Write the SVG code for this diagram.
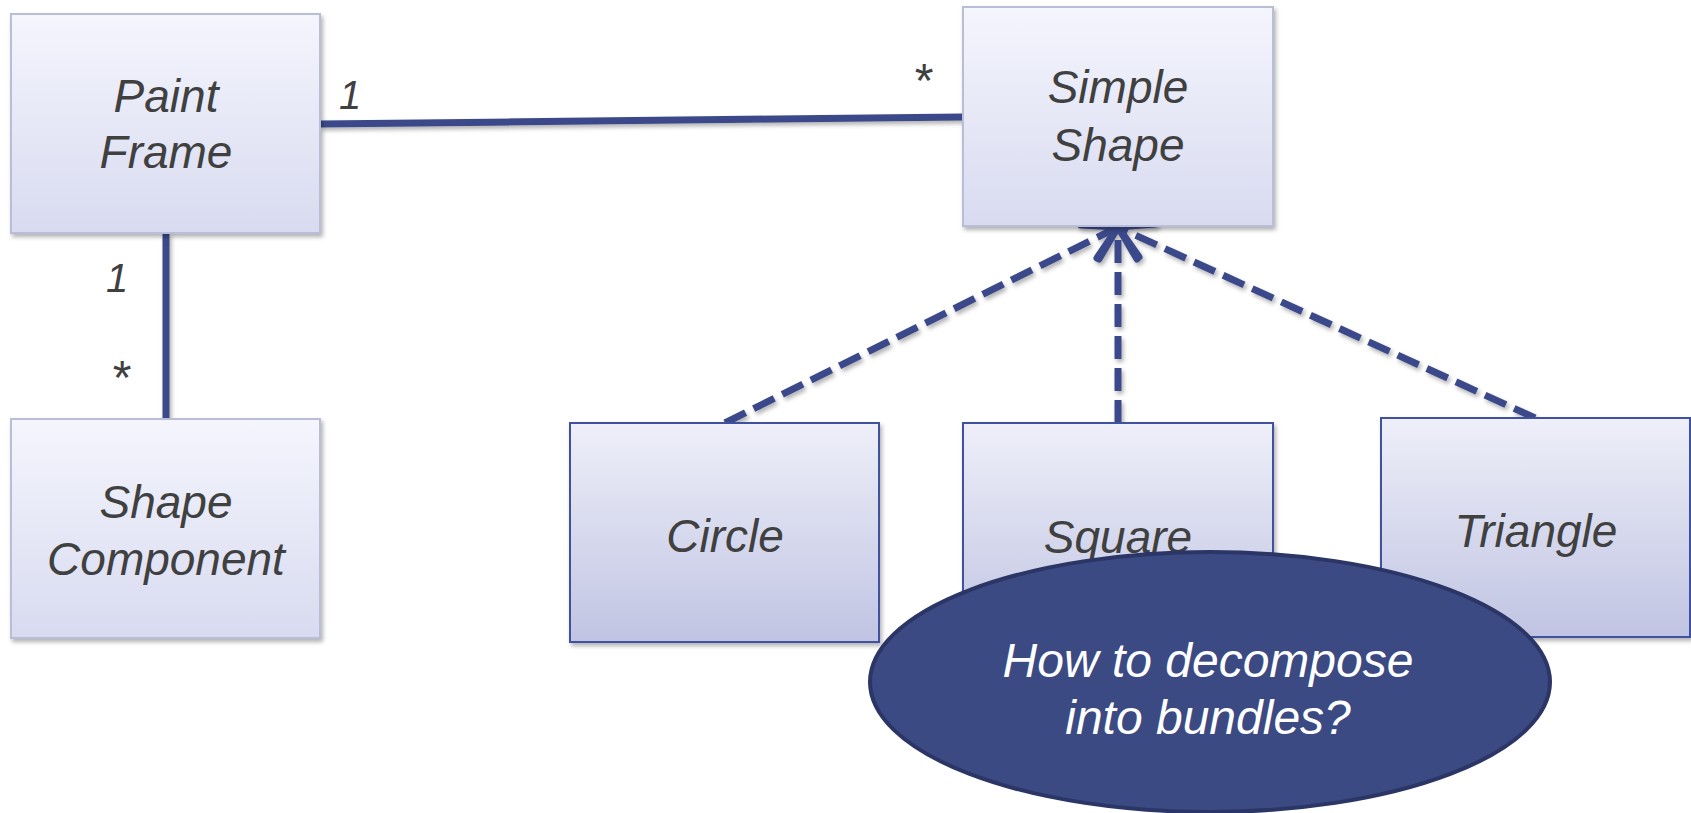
<svg xmlns="http://www.w3.org/2000/svg" width="1691" height="813" viewBox="0 0 1691 813">
<style>
.lbl{font-family:"Liberation Sans",Arial,sans-serif;font-style:italic;fill:#404040;text-anchor:middle}
.node{font-size:46px}
.mult{font-size:40px}
.star{font-size:48px}
.top{fill:url(#gTop);stroke:#b9bdd8;stroke-width:2}
.bot{fill:url(#gBot);stroke:#3f51a0;stroke-width:2}
.assoc{stroke:#3b4a8a;stroke-width:7;fill:none}
.dep{stroke:#3b4a8a;stroke-width:7;fill:none;stroke-dasharray:23 9}
.head{stroke:#3b4a8a;stroke-width:7;fill:none;stroke-linecap:round;stroke-linejoin:round}
.note{font-family:"Liberation Sans",Arial,sans-serif;font-style:italic;font-size:48px;fill:#ffffff;text-anchor:middle}
</style>
<defs>
<linearGradient id="gTop" x1="0" y1="0" x2="0" y2="1">
<stop offset="0" stop-color="#f4f5fd"/>
<stop offset="1" stop-color="#d8dbf0"/>
</linearGradient>
<linearGradient id="gBot" x1="0" y1="0" x2="0" y2="1">
<stop offset="0" stop-color="#eeeff9"/>
<stop offset="1" stop-color="#c0c4e2"/>
</linearGradient>
<filter id="sh" x="-10%" y="-10%" width="130%" height="130%">
<feDropShadow dx="2" dy="3" stdDeviation="2" flood-color="#000" flood-opacity="0.3"/>
</filter>
</defs>
<rect width="1691" height="813" fill="#ffffff"/>
<g id="connectors" filter="url(#sh)">
<line class="assoc" x1="320" y1="124" x2="963" y2="117"/>
<line class="assoc" x1="166" y1="233" x2="166" y2="419"/>
<line class="dep" x1="725" y1="423" x2="1114" y2="229"/>
<line class="dep" x1="1118" y1="423" x2="1118" y2="231"/>
<line class="dep" x1="1535" y1="418" x2="1122" y2="229"/>
<path class="head" d="M1081,225 L1118,227 L1097,258"/>
<path class="head" d="M1099,259 L1118,227 L1137,259"/>
<path class="head" d="M1155,224 L1118,227 L1139,257"/>
</g>
<g id="labels">
<text class="lbl mult" x="350" y="109">1</text>
<text class="lbl star" x="922" y="97">*</text>
<text class="lbl mult" x="117" y="292">1</text>
<text class="lbl star" x="120" y="394">*</text>
</g>
<g id="paint-frame">
<rect class="top" x="11" y="14" width="309" height="219" filter="url(#sh)"/>
<text class="lbl node" x="166" y="112">Paint</text>
<text class="lbl node" x="166" y="168">Frame</text>
</g>
<g id="simple-shape">
<rect class="top" x="963" y="7" width="310" height="219" filter="url(#sh)"/>
<text class="lbl node" x="1118" y="103">Simple</text>
<text class="lbl node" x="1118" y="161">Shape</text>
</g>
<g id="shape-component">
<rect class="top" x="11" y="419" width="309" height="219" filter="url(#sh)"/>
<text class="lbl node" x="166" y="518">Shape</text>
<text class="lbl node" x="166" y="575">Component</text>
</g>
<g id="circle">
<rect class="bot" x="570" y="423" width="309" height="219" filter="url(#sh)"/>
<text class="lbl node" x="725" y="552">Circle</text>
</g>
<g id="square">
<rect class="bot" x="963" y="423" width="310" height="219" filter="url(#sh)"/>
<text class="lbl node" x="1118" y="553">Square</text>
</g>
<g id="triangle">
<rect class="bot" x="1381" y="418" width="309" height="219" filter="url(#sh)"/>
<text class="lbl node" x="1536" y="547">Triangle</text>
</g>
<g id="question">
<ellipse cx="1210" cy="682" rx="340" ry="130" fill="#3b4a82" stroke="#2b3566" stroke-width="4"/>
<text class="note" x="1208" y="677">How to decompose</text>
<text class="note" x="1208" y="734">into bundles?</text>
</g>
</svg>
